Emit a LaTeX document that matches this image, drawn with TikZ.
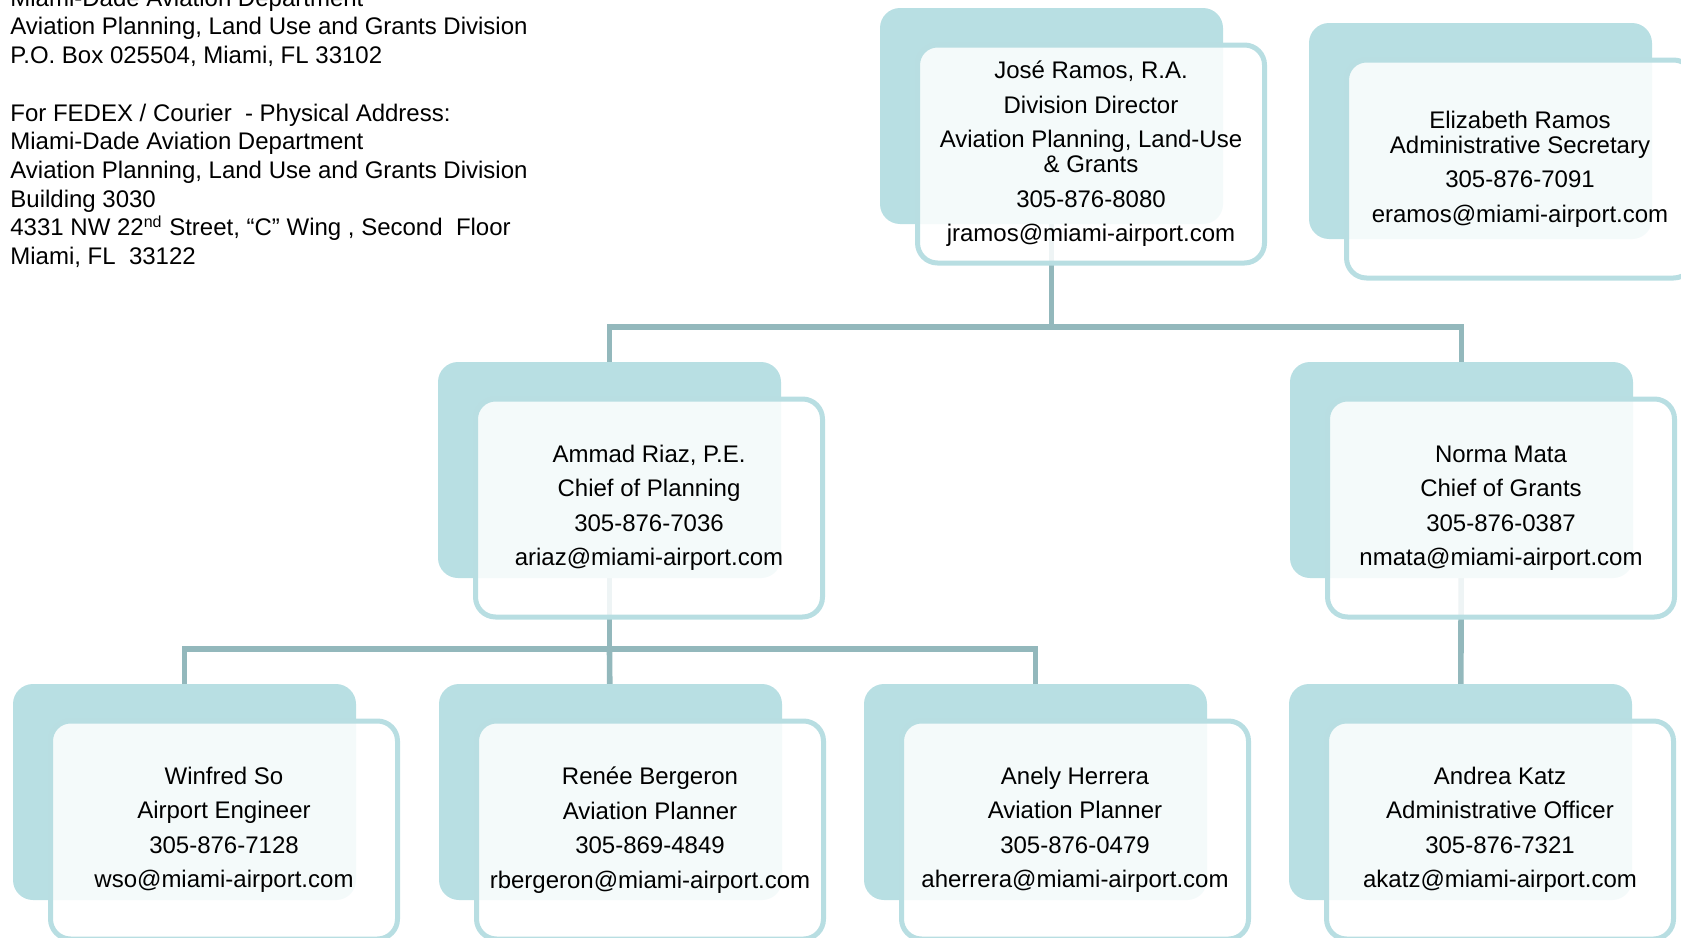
\documentclass[tikz,border=0pt]{standalone}
\usepackage{fontspec}
\setmainfont{Liberation Sans}
\definecolor{cardback}{HTML}{B8DFE3}
\definecolor{cardline}{HTML}{B8DEE2}
\definecolor{linkline}{HTML}{93B8BC}
\pgfdeclarelayer{background}
\pgfsetlayers{background,main}
\newcommand{\gap}{\\[4.85pt]}
\begin{document}
\begin{tikzpicture}[x=0.5pt,y=-0.5pt,
	back/.style={fill=cardback, rounded corners=10pt, minimum width=171.5pt, minimum height=108pt, inner sep=0pt},
	card/.style={draw=cardline, line width=2.5pt, fill=white, fill opacity=0.85, text opacity=1, rounded corners=10pt,
		minimum width=173.5pt, minimum height=109pt, inner sep=0pt, align=center, font=\fontsize{12}{12.4}\selectfont},
	link/.style={draw=linkline, line width=2.8pt}]
	\useasboundingbox (0,0) rectangle (1681,937);
	\clip (0,0) rectangle (1681,937);

	% Address
	\node[anchor=north west, inner sep=0pt, align=left, font=\fontsize{12}{14.35}\selectfont] (addr) at (10,-11.5)
		{Miami-Dade Aviation Department\\
		Aviation Planning, Land Use and Grants Division\\
		P.O. Box 025504, Miami, FL 33102\\[14.35pt]
		For FEDEX / Courier~ - Physical Address:\\
		Miami-Dade Aviation Department\\
		Aviation Planning, Land Use and Grants Division\\
		Building 3030\\
		4331 NW 22\textsuperscript{nd} Street, “C” Wing , Second~ Floor\\
		Miami, FL~ 33122};

	% Director
	\node[back] (dirBack) at (1051.5,116) {};
	\node[card] (dir) at ([shift={(39.5,38)}]dirBack.center)
		{José Ramos, R.A.\gap Division Director\gap Aviation Planning, Land-Use\\\& Grants\gap 305-876-8080\gap jramos@miami-airport.com};

	% Secretary
	\node[back] (secBack) at (1480.5,131) {};
	\node[card] (sec) at ([shift={(39.5,38)}]secBack.center)
		{Elizabeth Ramos\\Administrative Secretary\gap 305-876-7091\gap eramos@miami-airport.com};

	% Chiefs
	\node[back] (riazBack) at (609.5,470) {};
	\node[card] (riaz) at ([shift={(39.5,38)}]riazBack.center)
		{Ammad Riaz, P.E.\gap Chief of Planning\gap 305-876-7036\gap ariaz@miami-airport.com};

	\node[back] (mataBack) at (1461.5,470) {};
	\node[card] (mata) at ([shift={(39.5,38)}]mataBack.center)
		{Norma Mata\gap Chief of Grants\gap 305-876-0387\gap nmata@miami-airport.com};

	% Staff
	\node[back] (soBack) at (184.5,792) {};
	\node[card] (so) at ([shift={(39.5,38)}]soBack.center)
		{Winfred So\gap Airport Engineer\gap 305-876-7128\gap wso@miami-airport.com};

	\node[back] (bergeronBack) at (610.5,792) {};
	\node[card] (bergeron) at ([shift={(39.5,38)}]bergeronBack.center)
		{Renée Bergeron\gap Aviation Planner\gap 305-869-4849\gap rbergeron@miami-airport.com};

	\node[back] (herreraBack) at (1035.5,792) {};
	\node[card] (herrera) at ([shift={(39.5,38)}]herreraBack.center)
		{Anely Herrera\gap Aviation Planner\gap 305-876-0479\gap aherrera@miami-airport.com};

	\node[back] (katzBack) at (1460.5,792) {};
	\node[card] (katz) at ([shift={(39.5,38)}]katzBack.center)
		{Andrea Katz\gap Administrative Officer\gap 305-876-7321\gap akatz@miami-airport.com};

	% Connectors
	\begin{pgfonlayer}{background}
		\coordinate (busTop) at (1051.5,327);
		\coordinate (busMid) at (609.5,649);
		\draw[link] (dirBack.center) -- (busTop);
		\draw[link] (riazBack.center) |- (busTop) -| (mataBack.center);
		\draw[link] (riazBack.center) -- (busMid);
		\draw[link] (soBack.center) |- (busMid) -| (herreraBack.center);
		\draw[link] (bergeronBack.center) -- (busMid);
		\draw[link] (mataBack.center) -- (katzBack.center);
	\end{pgfonlayer}

\end{tikzpicture}
\end{document}
